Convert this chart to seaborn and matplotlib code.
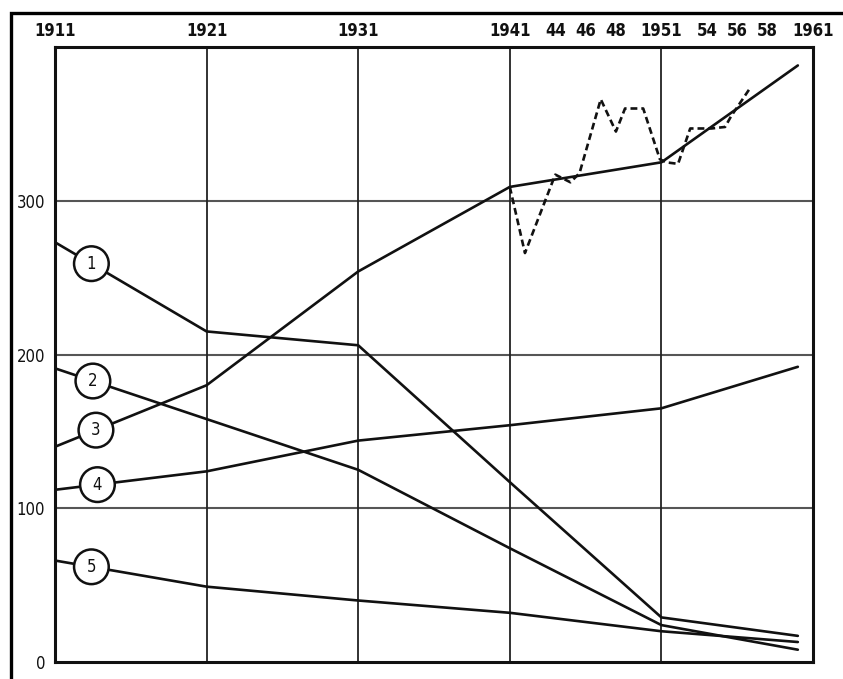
import numpy as np
import pandas as pd
import matplotlib
matplotlib.use("Agg")
import matplotlib.pyplot as plt
import seaborn as sns
from matplotlib.patches import Rectangle

# ─────────────────────────────────────────
# DATA
# ─────────────────────────────────────────
years = [1911, 1921, 1931, 1941, 1951, 1960]

line1 = [273, 215, 206, 117, 29, 17]
line2 = [191, 158, 125, 74, 24, 8]
line3 = [140, 180, 254, 309, 325, 388]
line4 = [112, 124, 144, 154, 165, 192]
line5 = [66, 49, 40, 32, 20, 13]

series = {"1": line1, "2": line2, "3": line3, "4": line4, "5": line5}

dash_years = [1941, 1942, 1944, 1945, 1945.6, 1947, 1948, 1948.6, 1949.8,
              1950.9, 1951.3, 1952.1, 1952.9, 1954.3, 1955.2, 1955.6, 1956.9]
dash_values = [309, 266, 317, 312, 318, 366, 345, 360, 360,
               327, 325, 324, 347, 347, 348, 355, 374]

top_ticks = [1911, 1921, 1931, 1941, 1944, 1946, 1948, 1951, 1954, 1956, 1958, 1961]
top_labels = ["1911", "1921", "1931", "1941", "44", "46", "48",
              "1951", "54", "56", "58", "1961"]
y_ticks = [0, 100, 200, 300]
grid_years = [1921, 1931, 1941, 1951]
grid_levels = [100, 200, 300]

label_x = {"1": 1913.4, "2": 1913.5, "3": 1913.7, "4": 1913.8, "5": 1913.4}

# ─────────────────────────────────────────
# STYLE
# ─────────────────────────────────────────
sns.set_style("white")
plt.rcParams['font.family'] = ['DejaVu Sans']
plt.rcParams['font.stretch'] = 'condensed'

ink = "#111111"

fig = plt.figure(figsize=(8.43, 6.79), dpi=100)
ax = fig.add_axes([55 / 843, 1 - 662 / 679, (813 - 55) / 843, (662 - 47) / 679])

# grid
for gy in grid_levels:
    ax.axhline(gy, color="#555555", lw=1.5, zorder=1)
for gx in grid_years:
    ax.axvline(gx, color="#222222", lw=1.3, zorder=1)

# main lines
for name, vals in series.items():
    df = pd.DataFrame({"year": years, "value": vals})
    sns.lineplot(data=df, x="year", y="value", ax=ax, color=ink,
                 linewidth=1.9, zorder=3)

# dashed annual series
dash_df = pd.DataFrame({"year": dash_years, "value": dash_values})
sns.lineplot(data=dash_df, x="year", y="value", ax=ax, color=ink,
             linewidth=1.9, linestyle=(0, (2.6, 1.5)), zorder=3)

# circled numbers
for name, vals in series.items():
    lx = label_x[name]
    ly = np.interp(lx, years, vals)
    ax.text(lx, ly, name, ha="center", va="center", fontsize=12,
            color=ink, zorder=5,
            bbox=dict(boxstyle="circle,pad=0.5", fc="white", ec=ink, lw=1.8))

# axes
ax.set_xlim(1911, 1961)
ax.set_ylim(0, 400)
ax.xaxis.tick_top()
ax.set_xticks(top_ticks)
ax.set_xticklabels(top_labels, fontsize=12, fontweight="bold")
ax.set_yticks(y_ticks)
ax.set_yticklabels([str(v) for v in y_ticks], fontsize=12)
ax.tick_params(axis="x", length=0, pad=5, colors=ink)
ax.tick_params(axis="y", length=0, pad=7, colors=ink)
ax.set_xlabel("")
ax.set_ylabel("")

for sp in ax.spines.values():
    sp.set_visible(True)
    sp.set_color(ink)
    sp.set_linewidth(2.2)

# outer frame of the picture
fig.patches.append(Rectangle((11 / 843, -0.1), 1.2, 1 - 13 / 679 + 0.1,
                             transform=fig.transFigure, fill=False,
                             ec="black", lw=2.4, zorder=0))

plt.savefig("out.png", dpi=100)
